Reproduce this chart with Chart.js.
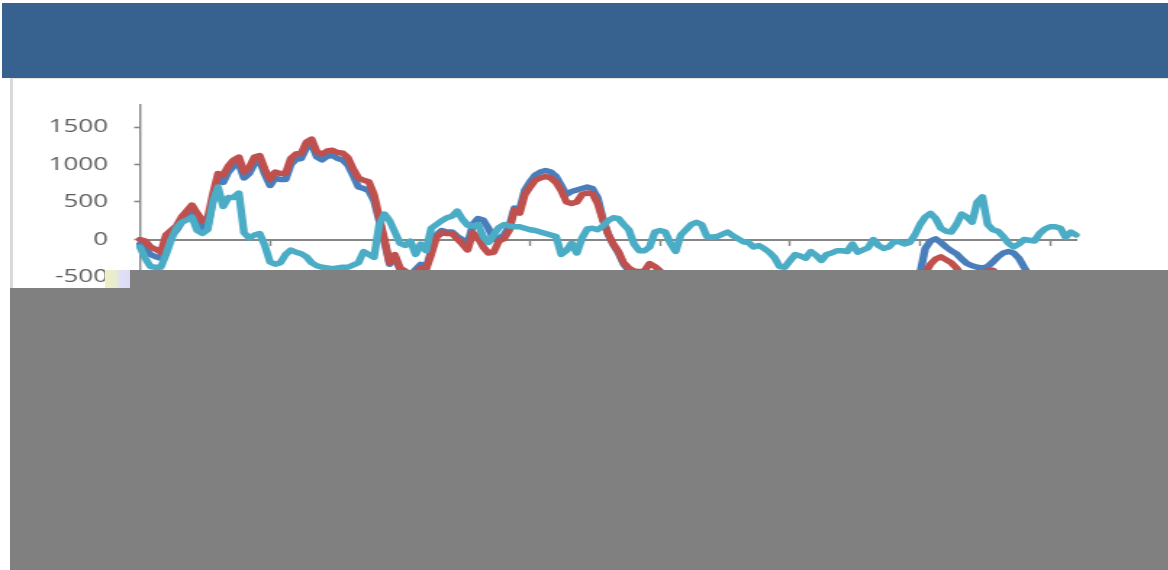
<!DOCTYPE html>
<html>
<head>
<meta charset="utf-8">
<script src="https://cdn.jsdelivr.net/npm/chart.js@4/dist/chart.umd.min.js"></script>
<style>
  html, body { margin: 0; padding: 0; background: #ffffff; width: 1168px; height: 570px; overflow: hidden; position: relative; font-family: "Open Sans", sans-serif; }
  #header { position: absolute; left: 2px; top: 3px; width: 1166px; height: 75px; background: #37618f; }
  #panel { position: absolute; left: 10px; top: 78px; width: 1158px; height: 220px; background: #ffffff; border-left: 3px solid #d9d9d9; border-top: 1px solid #e4e4e4; box-sizing: border-box; }
  #wrap { position: absolute; left: 0; top: 80px; width: 806px; height: 330px; transform: scaleX(1.45); transform-origin: 0 0; }
  #c { display: block; }
  .cover { position: absolute; background: #808080; }
  #patch { position: absolute; left: 105px; top: 270px; width: 25px; height: 18px; background: linear-gradient(90deg, #eef0c6 0%, #e8ecd0 45%, #e2e0f6 60%, #dcdcf8 100%); }
</style>
</head>
<body>
<div id="header"></div>
<div id="panel"></div>
<div id="wrap"><canvas id="c" width="806" height="330"></canvas></div>
<div class="cover" style="left:130px; top:270px; width:1038px; height:300px;"></div>
<div class="cover" style="left:10px; top:288px; width:1158px; height:282px;"></div>
<div id="patch"></div>
<script>
const categories = Array.from({length: 181}, (_, i) => String(i + 1));
const xTickIdx = [0, 25, 50, 75, 100, 125, 150, 175];
const yTicks = [-2000, -1500, -1000, -500, 0, 500, 1000, 1500];

const seriesBlue = [
  -60,-120,-200,-230,-250,-30,50,120,230,300,
  380,270,160,180,520,820,760,900,980,1010,
  820,880,1010,1050,870,720,820,800,800,1000,
  1070,1080,1220,1280,1100,1060,1110,1120,1080,1060,
  990,850,700,680,650,520,250,-30,-330,-230,
  -400,-440,-480,-400,-330,-380,-150,60,120,100,
  100,40,0,-60,200,280,260,150,0,20,
  60,180,420,400,660,770,860,900,920,900,
  840,720,600,640,660,680,700,680,560,280,
  70,-70,-180,-330,-420,-470,-520,-560,-600,-620,
  -650,-700,-760,-820,-880,-900,-950,-980,-1000,-1020,
  -1050,-1080,-1100,-1120,-1150,-1180,-1200,-1220,-1250,-1230,
  -1210,-1180,-1150,-1160,-1120,-1100,-1080,-1050,-1030,-1000,
  -1020,-1040,-1010,-980,-960,-940,-970,-990,-960,-940,
  -920,-900,-910,-880,-860,-850,-870,-860,-820,-700,
  -450,-120,-20,10,-40,-100,-150,-190,-260,-320,
  -350,-370,-380,-360,-300,-230,-180,-160,-180,-250,
  -370,-480,-600,-700,-760,-820,-860,-900,-950,-980,-1000
];

const seriesRed = [
  0,-20,-100,-130,-170,60,120,180,300,380,
  460,350,250,280,600,880,860,980,1060,1100,
  900,960,1100,1120,940,800,900,880,880,1080,
  1140,1150,1300,1340,1170,1140,1180,1190,1160,1150,
  1090,940,820,790,770,600,300,0,-310,-200,
  -380,-420,-480,-440,-380,-400,-200,30,90,80,
  80,10,-60,-140,90,20,-100,-180,-170,-20,
  10,120,390,350,600,700,790,820,840,820,
  760,650,500,480,500,600,620,610,480,260,
  80,-60,-160,-310,-380,-420,-430,-420,-320,-360,
  -420,-480,-550,-620,-700,-760,-800,-850,-900,-880,
  -920,-960,-1000,-1040,-1010,-1060,-1100,-1150,-1120,-1180,
  -1200,-1160,-1140,-1100,-1120,-1080,-1050,-1000,-1020,-980,
  -950,-980,-1010,-990,-960,-930,-900,-940,-970,-950,
  -920,-900,-880,-900,-860,-850,-830,-880,-900,-820,
  -700,-450,-330,-260,-230,-270,-310,-380,-480,-560,
  -600,-580,-500,-420,-410,-470,-560,-640,-700,-760,
  -800,-850,-880,-900,-930,-960,-990,-1000,-1020,-1040,-1050
];

const seriesCyan = [
  -100,-250,-360,-370,-370,-200,0,150,230,260,
  300,120,80,130,500,700,440,560,560,620,
  90,20,60,80,-80,-300,-330,-310,-200,-140,
  -170,-190,-230,-310,-350,-370,-380,-390,-380,-370,
  -370,-340,-310,-160,-200,-240,200,340,250,100,
  -50,-80,-20,-200,-60,-150,150,200,250,290,
  310,380,270,190,180,200,40,-40,60,160,
  200,180,170,170,150,130,120,100,80,60,
  40,-200,-150,-50,-180,20,140,150,130,180,
  250,290,280,200,130,-60,-150,-150,-100,100,
  120,100,-50,-160,60,130,200,230,200,40,
  30,40,70,100,50,10,-30,-40,-100,-80,
  -120,-170,-240,-360,-370,-280,-200,-220,-250,-160,
  -210,-280,-200,-180,-150,-150,-160,-60,-170,-140,
  -110,0,-80,-120,-100,-30,-30,-60,-40,60,
  200,300,350,280,150,110,100,200,340,300,
  230,500,570,200,130,110,40,-50,-100,-60,
  0,-10,-20,80,140,170,170,150,30,100,60
];

const axisGray = '#868686';
const lineStyle = { borderWidth: 5.4, pointRadius: 0, pointHoverRadius: 0, tension: 0, fill: false, borderJoinStyle: 'round', borderCapStyle: 'round' };

new Chart(document.getElementById('c'), {
  type: 'line',
  data: {
    labels: categories,
    datasets: [
      Object.assign({ label: 'Series 3', data: seriesCyan, borderColor: '#4bacc6', order: 0 }, lineStyle),
      Object.assign({ label: 'Series 2', data: seriesRed, borderColor: '#c0504d', order: 1 }, lineStyle),
      Object.assign({ label: 'Series 1', data: seriesBlue, borderColor: '#4a7ebb', order: 2 }, lineStyle)
    ]
  },
  options: {
    responsive: false,
    animation: false,
    events: [],
    layout: { padding: { left: 0, top: 24.5, right: 63.9, bottom: 20.5 } },
    plugins: { legend: { display: false }, title: { display: false }, tooltip: { enabled: false } },
    scales: {
      x: {
        type: 'category',
        position: { y: 0 },
        offset: false,
        afterBuildTicks: (scale) => { scale.ticks = xTickIdx.map(v => ({ value: v })); },
        afterFit: (scale) => { scale.paddingLeft = 0; scale.paddingRight = 0; scale.paddingTop = 0; scale.paddingBottom = 0; },
        ticks: { display: false, autoSkip: false },
        grid: { drawOnChartArea: false, drawTicks: true, tickLength: 5, tickWidth: 1.4, tickColor: axisGray },
        border: { display: true, color: axisGray, width: 2 }
      },
      y: {
        type: 'linear',
        min: -2000,
        max: 1800,
        afterBuildTicks: (scale) => { scale.ticks = yTicks.map(v => ({ value: v })); },
        afterFit: (scale) => { scale.width = 96.55; scale.paddingTop = 0; scale.paddingBottom = 0; scale.paddingLeft = 0; scale.paddingRight = 0; },
        ticks: { color: '#5f5f5f', padding: 18, font: { family: 'Open Sans', size: 18 }, callback: (v) => String(v) },
        grid: { drawOnChartArea: false, drawTicks: true, tickLength: 4, tickWidth: 1.6, tickColor: axisGray },
        border: { display: true, color: axisGray, width: 1.4 }
      }
    }
  }
});
</script>
</body>
</html>
